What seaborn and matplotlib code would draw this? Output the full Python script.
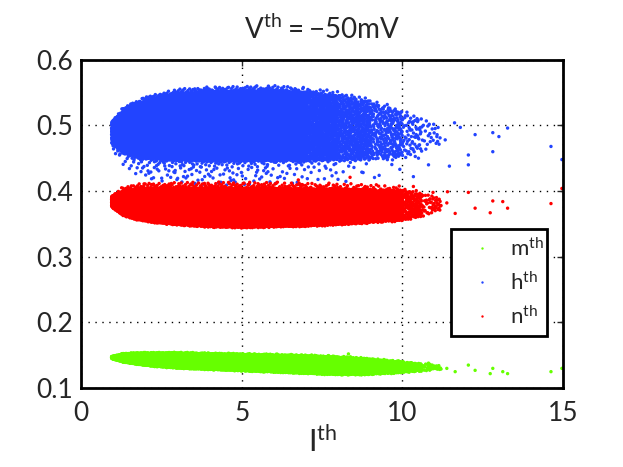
import matplotlib
matplotlib.use("Agg")
import matplotlib.pyplot as plt
import pandas as pd
import numpy as np
import seaborn as sns

# cloud outlines: x knots, upper / lower edge and relative density
knots_x = [0.95, 1.3, 1.7, 2.2, 3.0, 4.0, 5.0, 6.0, 7.0, 8.0, 9.0, 10.0, 10.6, 11.2]

h_top = [0.505, 0.522, 0.532, 0.540, 0.548, 0.551, 0.552, 0.553, 0.550, 0.545, 0.535, 0.520, 0.510, 0.500]
h_bot = [0.472, 0.458, 0.452, 0.449, 0.447, 0.446, 0.446, 0.446, 0.446, 0.447, 0.448, 0.452, 0.460, 0.470]
h_dens = [0.2, 0.9, 1.2, 1.3, 1.3, 1.3, 1.2, 1.0, 0.75, 0.5, 0.3, 0.13, 0.05, 0.015]

n_top = [0.392, 0.400, 0.403, 0.404, 0.404, 0.404, 0.404, 0.404, 0.403, 0.403, 0.402, 0.401, 0.396, 0.390]
n_bot = [0.376, 0.364, 0.358, 0.354, 0.350, 0.347, 0.346, 0.347, 0.348, 0.350, 0.353, 0.356, 0.362, 0.370]
n_dens = [0.3, 1.0, 1.2, 1.3, 1.3, 1.3, 1.2, 1.1, 1.0, 0.85, 0.6, 0.3, 0.1, 0.02]

m_top = [0.148, 0.152, 0.153, 0.153, 0.153, 0.152, 0.151, 0.150, 0.149, 0.147, 0.144, 0.140, 0.137, 0.135]
m_bot = [0.145, 0.140, 0.137, 0.134, 0.131, 0.129, 0.127, 0.125, 0.123, 0.121, 0.121, 0.124, 0.126, 0.128]
m_dens = [0.3, 1.0, 1.2, 1.3, 1.3, 1.3, 1.2, 1.1, 1.0, 0.85, 0.6, 0.3, 0.08, 0.02]

# how far the sparse fringe reaches past each edge (in half-widths): (below, above)
h_fringe = (1.7, 1.15)
n_fringe = (1.08, 1.35)
m_fringe = (1.1, 1.15)

# sparse points on the right side
h_tail_x = [11.62, 12.26, 12.81, 13.27, 12.05, 12.05, 11.46, 12.81, 14.62, 14.96, 11.33, 11.07, 10.81, 10.34, 11.8, 13.0]
h_tail_y = [0.504, 0.486, 0.489, 0.496, 0.455, 0.440, 0.438, 0.460, 0.468, 0.448, 0.478, 0.483, 0.440, 0.422, 0.497, 0.483]
n_tail_x = [11.38, 11.64, 12.05, 12.26, 12.73, 12.81, 13.12, 13.27, 14.62, 14.96, 10.95, 11.2, 11.4, 10.34, 8.84, 6.76, 6.8, 8.37]
n_tail_y = [0.382, 0.366, 0.398, 0.374, 0.367, 0.385, 0.384, 0.374, 0.381, 0.404, 0.398, 0.378, 0.399, 0.407, 0.407, 0.417, 0.410, 0.421]
m_tail_x = [11.38, 11.64, 12.05, 12.26, 12.81, 12.73, 13.12, 13.27, 14.62, 14.96, 10.81, 11.2, 8.32]
m_tail_y = [0.130, 0.125, 0.135, 0.127, 0.130, 0.122, 0.125, 0.122, 0.125, 0.130, 0.138, 0.129, 0.152]

labels = ["m", "h", "n"]
colors = ["#66ff00", "#2244ff", "#ff0000"]


def halton(i, base):
    f, r = 1.0, 0.0
    while i > 0:
        f /= base
        r += f * (i % base)
        i //= base
    return r


def fill_cloud(top, bot, dens, fringe, n_pts, core=0.95):
    # spread points over the outline: solid core, thin fringe past the edges
    kx = np.array(knots_x)
    w = np.array(dens)
    cdf = np.concatenate([[0], np.cumsum((w[1:] + w[:-1]) / 2 * np.diff(kx))])
    cdf /= cdf[-1]
    u = np.array([halton(i + 1, 2) for i in range(n_pts)])
    v = np.array([halton(i + 1, 3) for i in range(n_pts)])
    x = np.interp(u, cdf, kx)
    mid = (np.interp(x, kx, top) + np.interp(x, kx, bot)) / 2
    half = (np.interp(x, kx, top) - np.interp(x, kx, bot)) / 2
    t = 2 * v - 1
    a = np.abs(t)
    reach = np.where(t < 0, fringe[0], fringe[1])
    q = np.where(a <= core, t / core,
                 np.sign(t) * (1 + ((a - core) / (1 - core)) ** 2 * (reach - 1)))
    return x, mid + half * q


parts = []
for lab, top, bot, dens, fr, tx, ty, n in [
        ("m", m_top, m_bot, m_dens, m_fringe, m_tail_x, m_tail_y, 9000),
        ("h", h_top, h_bot, h_dens, h_fringe, h_tail_x, h_tail_y, 11000),
        ("n", n_top, n_bot, n_dens, n_fringe, n_tail_x, n_tail_y, 13000)]:
    x, y = fill_cloud(top, bot, dens, fr, n)
    parts.append(pd.DataFrame({"I": np.concatenate([x, tx]),
                               "val": np.concatenate([y, ty]),
                               "gate": lab}))
df = pd.concat(parts, ignore_index=True)

sns.set_style("white")
plt.rcParams["font.family"] = ["Lato", "DejaVu Sans"]
plt.rcParams["mathtext.fontset"] = "custom"
plt.rcParams["mathtext.rm"] = "Lato"

fig = plt.figure(figsize=(6.23, 4.67), dpi=100)
ax = fig.add_axes([0.130, 0.169, 0.774, 0.703])
sns.scatterplot(data=df, x="I", y="val", hue="gate", hue_order=labels,
                palette=colors, s=6, linewidth=0, edgecolor="none", ax=ax)

ax.set_xlim(0, 15)
ax.set_ylim(0.1, 0.6)
ax.set_xticks([0, 5, 10, 15])
ax.set_yticks([0.1, 0.2, 0.3, 0.4, 0.5, 0.6])
ax.set_yticklabels(["0.1", "0.2", "0.3", "0.4", "0.5", "0.6"])
ax.tick_params(direction="in", length=4, width=1, labelsize=19, top=True, right=True)
ax.tick_params(axis="y", pad=6)
ax.tick_params(axis="x", pad=9)
ax.grid(True, color="black", linestyle=(0, (1, 4)), linewidth=1)
for sp in ax.spines.values():
    sp.set_linewidth(2)
    sp.set_color("black")
ax.set_xlabel(r"$\mathregular{I^{th}}$", fontsize=22, labelpad=0)
ax.set_ylabel("")
ax.set_title(r"$\mathregular{V^{th} = -50mV}$", fontsize=20, pad=15)

handles, _ = ax.get_legend_handles_labels()
leg = ax.legend(handles, [r"$\mathregular{m^{th}}$", r"$\mathregular{h^{th}}$", r"$\mathregular{n^{th}}$"],
                loc="lower left", bbox_to_anchor=(0.768, 0.159, 0.199, 0.317), mode="expand",
                fontsize=16, markerscale=0.7, frameon=True, fancybox=False,
                borderaxespad=0, handlelength=2.0, handletextpad=0.3,
                labelspacing=0.5, borderpad=0.36)
leg.get_frame().set_edgecolor("black")
leg.get_frame().set_linewidth(2)
leg.get_frame().set_alpha(1)

fig.savefig("out.png", dpi=100)
